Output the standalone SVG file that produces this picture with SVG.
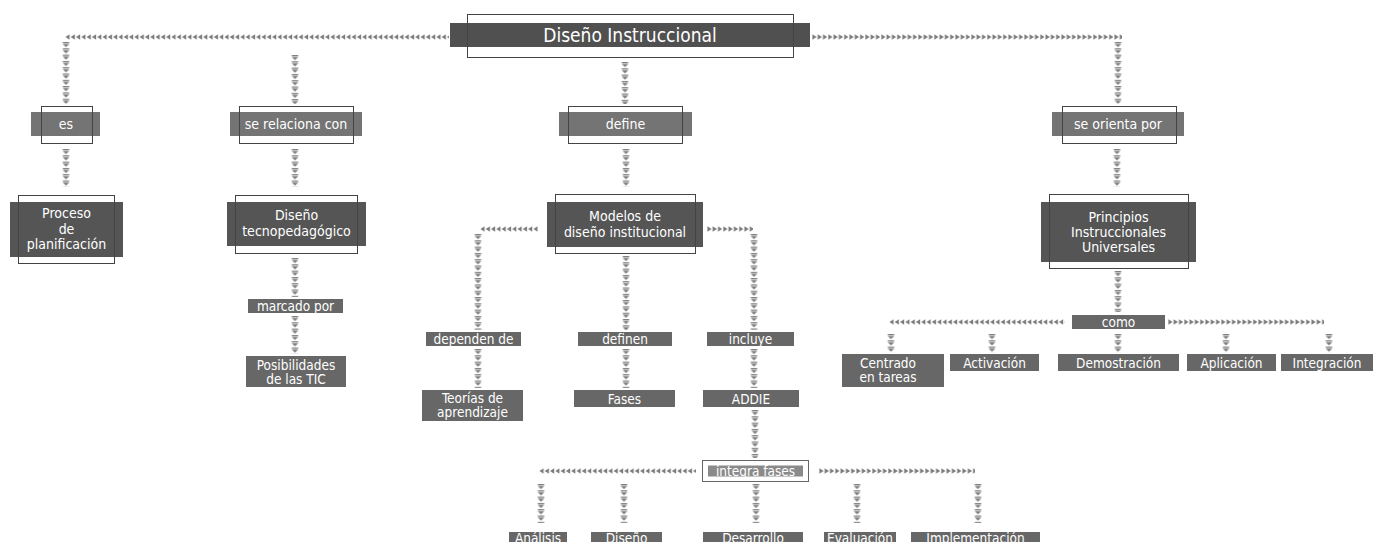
<svg xmlns="http://www.w3.org/2000/svg" width="1375" height="542" viewBox="0 0 1375 542">
<style>
text{font-family:"DejaVu Sans Condensed","DejaVu Sans","Liberation Sans",sans-serif;fill:#fff;text-anchor:middle}
.t{font-size:19px}
.m{font-size:14px}
.s{font-size:13.5px}
.bt{fill:#505050}
.bn{fill:#555}
.bl{fill:#747474}
.bs{fill:#676767}
.ol{fill:none;stroke:#444;stroke-width:1}
.cl{fill:url(#pl)}
.cr{fill:url(#pr)}
.cd{fill:url(#pd)}
</style>
<defs>
<pattern id="pl" patternUnits="userSpaceOnUse" x="0" y="-3" width="5.3" height="6"><path d="M0.4,3 L4.6,0.2 L4.6,5.8 Z" fill="#7c7c7c"/></pattern>
<pattern id="pr" patternUnits="userSpaceOnUse" x="0" y="-3" width="5.3" height="6"><path d="M4.6,3 L0.4,0.2 L0.4,5.8 Z" fill="#7c7c7c"/></pattern>
<pattern id="pd" patternUnits="userSpaceOnUse" x="-3.5" y="0" width="7" height="6.3"><rect x="0.3" y="0" width="6.4" height="1.3" fill="#7c7c7c"/><path d="M0.3,2 L6.7,2 L3.5,5.2 Z" fill="#7c7c7c"/></pattern>
</defs>
<rect width="1375" height="542" fill="#fff"/>
<g id="connectors">
<g transform="translate(65,37)"><rect class="cl" x="0" y="-3" width="384" height="6"/></g>
<g transform="translate(812,37)"><rect class="cr" x="0" y="-3" width="310" height="6"/></g>
<g transform="translate(66,42)"><rect class="cd" x="-3.5" y="0" width="7" height="62"/></g>
<g transform="translate(295,55)"><rect class="cd" x="-3.5" y="0" width="7" height="49"/></g>
<g transform="translate(625,62)"><rect class="cd" x="-3.5" y="0" width="7" height="42"/></g>
<g transform="translate(1118,42)"><rect class="cd" x="-3.5" y="0" width="7" height="62"/></g>
<g transform="translate(66,149)"><rect class="cd" x="-3.5" y="0" width="7" height="38"/></g>
<g transform="translate(295,149)"><rect class="cd" x="-3.5" y="0" width="7" height="38"/></g>
<g transform="translate(626,149)"><rect class="cd" x="-3.5" y="0" width="7" height="38"/></g>
<g transform="translate(1117,149)"><rect class="cd" x="-3.5" y="0" width="7" height="38"/></g>
<g transform="translate(295,258)"><rect class="cd" x="-3.5" y="0" width="7" height="39"/></g>
<g transform="translate(295,316)"><rect class="cd" x="-3.5" y="0" width="7" height="38"/></g>
<g transform="translate(480,229)"><rect class="cl" x="0" y="-3" width="58" height="6"/></g>
<g transform="translate(707,229)"><rect class="cr" x="0" y="-3" width="46" height="6"/></g>
<g transform="translate(478,234)"><rect class="cd" x="-3.5" y="0" width="7" height="96"/></g>
<g transform="translate(754,234)"><rect class="cd" x="-3.5" y="0" width="7" height="96"/></g>
<g transform="translate(626,256)"><rect class="cd" x="-3.5" y="0" width="7" height="74"/></g>
<g transform="translate(478,349)"><rect class="cd" x="-3.5" y="0" width="7" height="39"/></g>
<g transform="translate(626,349)"><rect class="cd" x="-3.5" y="0" width="7" height="39"/></g>
<g transform="translate(754,349)"><rect class="cd" x="-3.5" y="0" width="7" height="39"/></g>
<g transform="translate(755,410)"><rect class="cd" x="-3.5" y="0" width="7" height="48"/></g>
<g transform="translate(539,471)"><rect class="cl" x="0" y="-3" width="157" height="6"/></g>
<g transform="translate(819,471)"><rect class="cr" x="0" y="-3" width="156" height="6"/></g>
<g transform="translate(541,484)"><rect class="cd" x="-3.5" y="0" width="7" height="39"/></g>
<g transform="translate(624,484)"><rect class="cd" x="-3.5" y="0" width="7" height="39"/></g>
<g transform="translate(756,484)"><rect class="cd" x="-3.5" y="0" width="7" height="39"/></g>
<g transform="translate(857,484)"><rect class="cd" x="-3.5" y="0" width="7" height="39"/></g>
<g transform="translate(978,484)"><rect class="cd" x="-3.5" y="0" width="7" height="39"/></g>
<g transform="translate(1118,271)"><rect class="cd" x="-3.5" y="0" width="7" height="41"/></g>
<g transform="translate(889,322)"><rect class="cl" x="0" y="-3" width="176" height="6"/></g>
<g transform="translate(1168,322)"><rect class="cr" x="0" y="-3" width="156" height="6"/></g>
<g transform="translate(891,334)"><rect class="cd" x="-3.5" y="0" width="7" height="19"/></g>
<g transform="translate(992,334)"><rect class="cd" x="-3.5" y="0" width="7" height="19"/></g>
<g transform="translate(1118,334)"><rect class="cd" x="-3.5" y="0" width="7" height="19"/></g>
<g transform="translate(1226,334)"><rect class="cd" x="-3.5" y="0" width="7" height="19"/></g>
<g transform="translate(1329,334)"><rect class="cd" x="-3.5" y="0" width="7" height="19"/></g>
</g>
<g id="n-title"><rect class="bt" x="450" y="23" width="360" height="24"/><rect class="ol" x="467.5" y="14.5" width="326" height="43"/><text class="t" x="630" y="42">Diseño Instruccional</text></g>
<g id="n-es"><rect class="bl" x="31" y="112" width="69" height="24"/><rect class="ol" x="41.5" y="106.5" width="51" height="37"/><text class="m" x="66" y="129">es</text></g>
<g id="n-serelaciona"><rect class="bl" x="230" y="112" width="132" height="24"/><rect class="ol" x="239.5" y="106.5" width="114" height="37"/><text class="m" x="296" y="129">se relaciona con</text></g>
<g id="n-define"><rect class="bl" x="559" y="112" width="133" height="24"/><rect class="ol" x="568.5" y="106.5" width="114" height="37"/><text class="m" x="625.5" y="129">define</text></g>
<g id="n-seorienta"><rect class="bl" x="1052" y="112" width="132" height="24"/><rect class="ol" x="1062.5" y="106.5" width="114" height="37"/><text class="m" x="1118" y="129">se orienta por</text></g>
<g id="n-proceso"><rect class="bn" x="10" y="202" width="113" height="55"/><rect class="ol" x="18.5" y="195.5" width="96" height="68"/><text class="m" x="66.5" y="218">Proceso</text><text class="m" x="66.5" y="233.5">de</text><text class="m" x="66.5" y="249">planificación</text></g>
<g id="n-tecno"><rect class="bn" x="227" y="202" width="139" height="44"/><rect class="ol" x="235.5" y="195.5" width="122" height="58"/><text class="m" x="296.5" y="220">Diseño</text><text class="m" x="296.5" y="236">tecnopedagógico</text></g>
<g id="n-modelos"><rect class="bn" x="547" y="202" width="156" height="45"/><rect class="ol" x="555.5" y="194.5" width="140" height="59"/><text class="m" x="625" y="221">Modelos de</text><text class="m" x="625" y="237">diseño institucional</text></g>
<g id="n-principios"><rect class="bn" x="1041" y="202" width="155" height="60"/><rect class="ol" x="1049.5" y="194.5" width="139" height="74"/><text class="m" x="1118.5" y="221.5">Principios</text><text class="m" x="1118.5" y="236.5">Instruccionales</text><text class="m" x="1118.5" y="251.5">Universales</text></g>
<g id="n-marcado"><rect class="bs" x="248" y="299" width="95" height="14"/><text class="s" x="295.5" y="310.5">marcado por</text></g>
<g id="n-posibilidades"><rect class="bs" x="246" y="356" width="100" height="31"/><text class="s" x="296" y="370">Posibilidades</text><text class="s" x="296" y="383.5">de las TIC</text></g>
<g id="n-dependen"><rect class="bs" x="426" y="332" width="95" height="14"/><text class="s" x="473.5" y="343.5">dependen de</text></g>
<g id="n-definen"><rect class="bs" x="578" y="332" width="94" height="14"/><text class="s" x="625" y="343.5">definen</text></g>
<g id="n-incluye"><rect class="bs" x="707" y="332" width="87" height="14"/><text class="s" x="750.5" y="343.5">incluye</text></g>
<g id="n-teorias"><rect class="bs" x="422" y="390" width="101" height="31"/><text class="s" x="472.5" y="403">Teorías de</text><text class="s" x="472.5" y="416.5">aprendizaje</text></g>
<g id="n-fases"><rect class="bs" x="574" y="390" width="101" height="17"/><text class="s" x="624.5" y="403.5">Fases</text></g>
<g id="n-addie"><rect class="bs" x="703" y="390" width="96" height="17"/><text class="s" x="751" y="403.5">ADDIE</text></g>
<g id="n-integra"><rect x="702.5" y="460.5" width="106" height="21" fill="#fff" stroke="#666" stroke-width="1"/><rect fill="#8a8a8a" x="708" y="465.5" width="95" height="11"/><text class="s" x="755.5" y="475.5">integra fases</text></g>
<g id="n-analisis"><rect class="bs" x="509" y="532" width="58" height="12"/><text class="s" x="538" y="542.5">Análisis</text></g>
<g id="n-diseno"><rect class="bs" x="591" y="532" width="71" height="12"/><text class="s" x="626.5" y="542.5">Diseño</text></g>
<g id="n-desarrollo"><rect class="bs" x="703" y="532" width="100" height="12"/><text class="s" x="753" y="542.5">Desarrollo</text></g>
<g id="n-evaluacion"><rect class="bs" x="824" y="532" width="72" height="12"/><text class="s" x="860" y="542.5">Evaluación</text></g>
<g id="n-implementacion"><rect class="bs" x="911" y="532" width="129" height="12"/><text class="s" x="975.5" y="542.5">Implementación</text></g>
<g id="n-como"><rect class="bs" x="1072" y="315" width="93" height="14"/><text class="s" x="1118.5" y="326.5">como</text></g>
<g id="n-centrado"><rect class="bs" x="842" y="354" width="102" height="33"/><text class="s" x="888" y="367.5">Centrado</text><text class="s" x="888" y="382">en tareas</text></g>
<g id="n-activacion"><rect class="bs" x="950" y="354" width="89" height="17"/><text class="s" x="994.5" y="367.5">Activación</text></g>
<g id="n-demostracion"><rect class="bs" x="1058" y="354" width="121" height="17"/><text class="s" x="1118.5" y="367.5">Demostración</text></g>
<g id="n-aplicacion"><rect class="bs" x="1187" y="354" width="89" height="17"/><text class="s" x="1231.5" y="367.5">Aplicación</text></g>
<g id="n-integracion"><rect class="bs" x="1281" y="354" width="92" height="17"/><text class="s" x="1327" y="367.5">Integración</text></g>
</svg>
